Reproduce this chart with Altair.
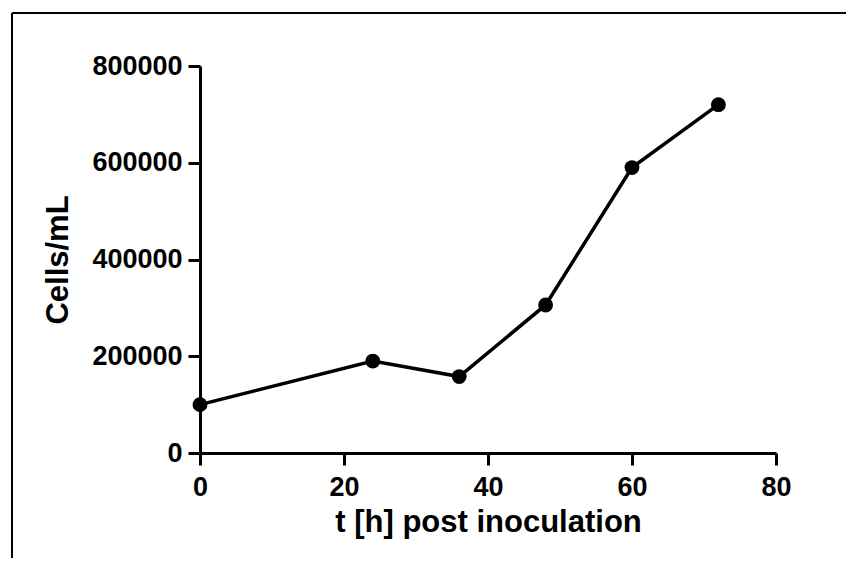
import altair as alt
import pandas as pd

hours = [0, 24, 36, 48, 60, 72]
cells = [100000, 190000, 158000, 306000, 590000, 720000]

x_ticks = [0, 20, 40, 60, 80]
y_ticks = [0, 200000, 400000, 600000, 800000]

df = pd.DataFrame({"t": hours, "cells": cells})

FONT = "Liberation Sans"

x_enc = alt.X("t:Q", title="t [h] post inoculation",
              scale=alt.Scale(domain=[0, 80], nice=False, zero=True),
              axis=alt.Axis(values=x_ticks, grid=False, format="d",
                            labelPadding=9, titlePadding=7))
y_enc = alt.Y("cells:Q", title="Cells/mL",
              scale=alt.Scale(domain=[0, 800000], nice=False),
              axis=alt.Axis(values=y_ticks, grid=False, format="d",
                            labelPadding=6, titlePadding=17))

base = alt.Chart(df)
line = base.mark_line(color="black", strokeWidth=3.5, clip=False).encode(x=x_enc, y=y_enc)
pts = base.mark_circle(color="black", size=220, opacity=1, clip=False).encode(x="t:Q", y="cells:Q")

frame_top = alt.Chart(df).mark_rule(color="black", strokeWidth=2).encode(
    x=alt.value(-188), x2=alt.value(700), y=alt.value(-53))
frame_left = alt.Chart(df).mark_rule(color="black", strokeWidth=2).encode(
    x=alt.value(-188), y=alt.value(-53), y2=alt.value(600))

chart = alt.layer(line, pts, frame_top, frame_left).properties(
    width=576, height=387,
    autosize=alt.AutoSizeParams(type="none"),
    padding={"left": 192, "top": 58, "right": 70, "bottom": 105},
).configure_view(stroke=None).configure_axis(
    domainColor="black", domainWidth=3, tickColor="black", tickWidth=3,
    tickSize=12, labelFont=FONT, labelFontSize=27, labelFontWeight="bold",
    labelColor="black", titleFont=FONT, titleFontSize=31,
    titleFontWeight="bold", titleColor="black", labelFlush=False,
)

chart.save("out.html", embed_options={"renderer": "svg", "actions": False})
